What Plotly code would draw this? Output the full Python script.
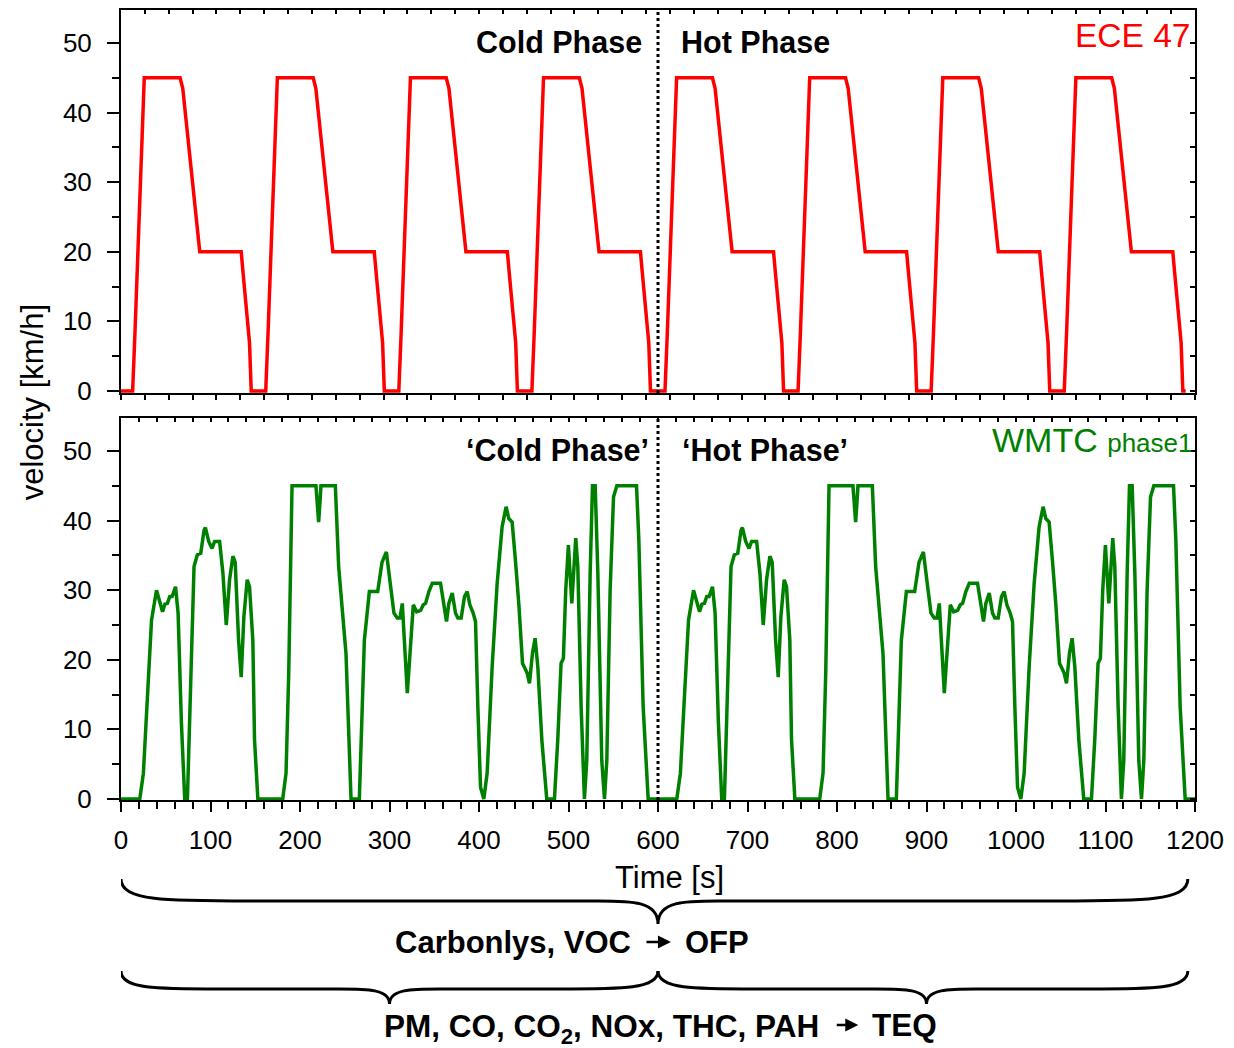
import plotly.graph_objects as go

# ---------------- data ----------------
# ECE 47: one elementary cycle (time within cycle [s], speed [km/h]); repeated 8 times
ece_cycle_t = [0, 13, 15.5, 26, 66, 69, 88, 134.3, 136, 143.6, 145.5]
ece_cycle_v = [0, 0, 8, 45, 45, 43.5, 20, 20, 17.5, 6.9, 0]
ece_period = 148.7
ece_repeats = 8

# WMTC phase 1: one 600 s run (cold phase); the hot phase repeats it
wmtc_t = [0, 21, 25, 30.4, 34.1, 39.7, 46.4, 49, 51.9, 54.5, 57.1, 60.9, 63.8, 67.5, 71.2, 74.2,
          77.9, 81.6, 85.3, 89.1, 92.8, 94.3, 98, 101.7, 104.6, 110.2, 113.9, 117.6, 121.3, 125,
          127.6, 131.4, 134.3, 137.3, 141, 143.6, 147.3, 149.2, 152.9, 180.7, 184.4, 187.4, 191.1,
          217.8, 219, 220.8, 222.5, 223.4, 239.5, 243.2, 251.4, 257, 266.3, 271.9, 277.5, 286.8,
          291.6, 296.5, 301.3, 305, 308.7, 311.7, 314.3, 316.9, 319.9, 322.9, 326.6, 330.3, 334.8,
          337.7, 340.3, 344, 347.8, 357, 360.8, 363.7, 366.3, 370.1, 373.8, 376.4, 380.1, 383.8,
          386.8, 389.8, 393.5, 396.1, 398.7, 401.7, 405.4, 409.1, 414.7, 420.3, 425.8, 430.3, 433.3,
          437, 440.7, 444.5, 448.6, 453.8, 456.4, 459.8, 462.7, 465.7, 470.2, 475.7, 484.3, 488,
          491.7, 494.3, 496.9, 499.9, 503.7, 505.5, 508.1, 510.4, 514.1, 517.8, 520.4, 524.2, 526.8,
          529.8, 532.8, 537.2, 540.2, 542.8, 546.5, 550.3, 554, 576, 578.6, 583.4, 589, 600]
wmtc_v = [0, 0, 3.7, 18.1, 25.7, 30.0, 26.9, 28.0, 28.1, 29.1, 29.1, 30.5, 26.7, 10.9, 0, 0,
          18.1, 33.4, 35.1, 35.3, 38.6, 39.0, 37.0, 36.0, 37.0, 37.0, 32.4, 25.0, 31.5, 34.9,
          34.0, 22.8, 17.5, 26.2, 31.5, 30.5, 22.8, 8.5, 0, 0, 3.7, 18.1, 45,
          45, 43, 39.8, 43, 45, 45, 33.4, 20.9, 0, 0, 22.8, 29.8, 29.8,
          34.0, 35.5, 30.5, 26.7, 26.0, 26.0, 28.1, 22.8, 15.2, 20.9, 27.9, 26.9, 27.1,
          27.9, 28.1, 29.8, 31.0, 31.0, 28.1, 25.5, 28.1, 29.6, 26.7, 26.0, 26.0, 29.1,
          29.8, 27.9, 26.7, 25.5, 13.3, 1.7, 0, 3.7, 19.0, 31.0, 39.1, 42.0, 40.3,
          39.8, 34.3, 28, 19.5, 18.1, 16.6, 21.0, 23.1, 19.0, 8.5, 0, 0, 8.5,
          19.5, 20.2, 30.0, 36.5, 28.1, 32.4, 37.5, 33.4, 13.3, 0, 5.5, 32.4, 45,
          45, 32.4, 5.5, 0, 5.5, 30.0, 43.4, 45, 45, 37.2, 13.3, 0, 0]
phase_len = 600

# brace spans (start, end, tip) in seconds
top_braces = [(0, 1192, 600)]
bottom_braces = [(0, 600, 300), (600, 1192, 900)]

# ---------------- build series ----------------
ece_t, ece_v = [], []
for k in range(ece_repeats):
    ece_t += [t + k * ece_period for t in ece_cycle_t]
    ece_v += list(ece_cycle_v)
ece_t.append(ece_repeats * ece_period)
ece_v.append(0)

w_t = list(wmtc_t) + [t + phase_len for t in wmtc_t[1:]]
w_v = list(wmtc_v) + list(wmtc_v[1:])

# ---------------- geometry helpers (pixels -> paper) ----------------
W, H = 1234, 1048
L, R, T, B = 121, 1199, 10, 800
def xp(px):
    return (px - L) / (R - L)
def yp(py):
    return (B - py) / (B - T)
def sec(px_len):
    return px_len * 1200 / (R - L)

FONT = "Liberation Sans, Arial, sans-serif"
RED = "#FF0000"
GREEN = "#008000"

fig = go.Figure()
fig.add_trace(go.Scatter(x=ece_t, y=ece_v, mode="lines", line=dict(color=RED, width=3.5),
                         xaxis="x", yaxis="y", showlegend=False, hoverinfo="skip"))
fig.add_trace(go.Scatter(x=w_t, y=w_v, mode="lines", line=dict(color=GREEN, width=3.5),
                         xaxis="x2", yaxis="y2", showlegend=False, hoverinfo="skip"))
# dummy traces to activate mirror-tick overlay axes
fig.add_trace(go.Scatter(x=[None], y=[None], xaxis="x3", yaxis="y3", showlegend=False))
fig.add_trace(go.Scatter(x=[None], y=[None], xaxis="x4", yaxis="y4", showlegend=False))

top_dom = [yp(393), 1]
bot_dom = [0, yp(418)]
top_range = [-0.29, 54.74]
bot_range = [-0.15, 54.75]

common_line = dict(showline=True, linecolor="black", linewidth=2, showgrid=False,
                   zeroline=False, tickcolor="black", tickwidth=2)

fig.update_layout(
    width=W, height=H,
    margin=dict(l=L, r=W - R, t=T, b=H - B),
    paper_bgcolor="white", plot_bgcolor="white",
    font=dict(family=FONT, color="black"),
    xaxis=dict(domain=[0, 1], anchor="y", range=[0, 1200], showticklabels=False,
               ticks="outside", ticklen=5, tick0=0, dtick=1200 / 45, **common_line),
    yaxis=dict(domain=top_dom, anchor="x", range=top_range, ticks="outside", ticklen=12,
               tick0=0, dtick=10, tickfont=dict(size=26), ticklabelstandoff=10,
               minor=dict(dtick=5, ticklen=7, ticks="outside", tickcolor="black", tickwidth=2),
               **common_line),
    xaxis3=dict(overlaying="x", anchor="y", side="top", range=[0, 1200], showticklabels=False,
                ticks="inside", ticklen=4, tick0=0, dtick=1200 / 45, **common_line),
    yaxis3=dict(overlaying="y", anchor="x", side="right", range=top_range, showticklabels=False,
                ticks="inside", ticklen=5, tick0=0, dtick=5, **common_line),
    xaxis2=dict(domain=[0, 1], anchor="y2", range=[0, 1200], ticks="outside", ticklen=10,
                tick0=0, dtick=100, tickfont=dict(size=26), ticklabelstandoff=6,
                minor=dict(dtick=20, ticklen=7, ticks="outside", tickcolor="black", tickwidth=2),
                **common_line),
    yaxis2=dict(domain=bot_dom, anchor="x2", range=bot_range, ticks="outside", ticklen=12,
                tick0=0, dtick=10, tickfont=dict(size=26), ticklabelstandoff=10,
                minor=dict(dtick=5, ticklen=7, ticks="outside", tickcolor="black", tickwidth=2),
                **common_line),
    xaxis4=dict(overlaying="x2", anchor="y2", side="top", range=[0, 1200], showticklabels=False,
                ticks="inside", ticklen=4, tick0=0, dtick=20, **common_line),
    yaxis4=dict(overlaying="y2", anchor="x2", side="right", range=bot_range, showticklabels=False,
                ticks="inside", ticklen=5, tick0=0, dtick=5, **common_line),
)

# phase separators
for yr in ["y domain", "y2 domain"]:
    fig.add_shape(type="line", xref="x", yref=yr, x0=600, x1=600, y0=0, y1=1,
                  line=dict(color="black", width=3, dash="dot"))

def ann(text, px, py, xanchor="center", size=30, color="black", bold=False, angle=0):
    if bold:
        text = "<b>" + text + "</b>"
    fig.add_annotation(text=text, xref="paper", yref="paper", x=xp(px), y=yp(py),
                       xanchor=xanchor, yanchor="middle", showarrow=False, textangle=angle,
                       font=dict(family=FONT, size=size, color=color))

def arrow(px_tail, px_head, py):
    fig.add_annotation(text="", xref="paper", yref="paper", x=xp(px_head), y=yp(py),
                       axref="pixel", ayref="pixel", ax=-(px_head - px_tail), ay=0,
                       showarrow=True, arrowhead=2, arrowsize=1.0, arrowwidth=2.6,
                       arrowcolor="black", standoff=0)

ann("Cold Phase", 646, 42, "right", 30.5, bold=True)
ann("Hot Phase", 681, 42, "left", 30.5, bold=True)
ann("ECE 47", 1196, 36, "right", 33.5, RED)
ann("\u2018Cold Phase\u2019", 653, 450, "right", 30.5, bold=True)
ann("\u2018Hot Phase\u2019", 682, 450, "left", 30.5, bold=True)
ann("WMTC <span style='font-size:26px'>phase1</span>", 1199, 440, "right", 34, GREEN)
ann("velocity [km/h]", 32, 402, "center", 31, angle=-90)
ann("Time [s]", 672, 877, "center", 31)
ann("Carbonlys, VOC", 635, 942, "right", 31, bold=True)
arrow(647, 673, 942)
ann("OFP", 685, 942, "left", 31, bold=True)
ann("PM, CO, CO<sub>2</sub>, NOx, THC, PAH", 824, 1028, "right", 31.5, bold=True)
arrow(838, 861, 1025)
ann("TEQ", 873, 1025, "left", 31.5, bold=True)

# curly braces (x in seconds, y in paper units)
def brace(x0, x1, xc, y_end, y_mid, y_tip, a, b):
    ye, ym, yt = yp(y_end), yp(y_mid), yp(y_tip)
    p = (f"M {x0},{ye} C {x0},{ym} {x0 + 0.35 * a},{ym} {x0 + a},{ym} "
         f"L {xc - b},{ym} C {xc - 0.45 * b},{ym} {xc},{ym} {xc},{yt} "
         f"C {xc},{ym} {xc + 0.45 * b},{ym} {xc + b},{ym} "
         f"L {x1 - a},{ym} C {x1 - 0.35 * a},{ym} {x1},{ym} {x1},{ye}")
    fig.add_shape(type="path", xref="x2", yref="paper", path=p,
                  line=dict(color="black", width=3))

for (s, e, c) in top_braces:
    brace(s, e, c, 879, 901, 924, sec(130), sec(60))
for (s, e, c) in bottom_braces:
    brace(s, e, c, 971, 989, 1004, sec(100), sec(50))

fig.write_html("out.html")
